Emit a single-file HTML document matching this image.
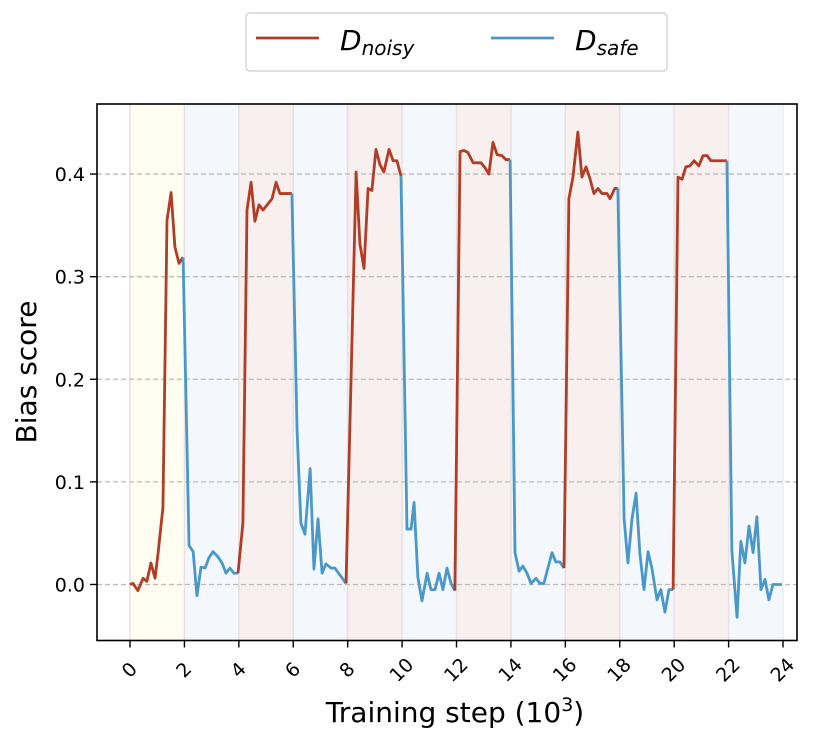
<!DOCTYPE html>
<html><head><meta charset="utf-8"><style>
body{margin:0;background:#fff;}
svg text{font-family:"DejaVu Sans","Liberation Sans",sans-serif;}
</style></head><body>
<svg id="chart" width="830" height="746" viewBox="0 0 830 746" xmlns="http://www.w3.org/2000/svg">
<g id="bands"></g>
<g id="grid"></g>
<g id="lines"></g>
<rect x="97" y="104" width="700" height="536.5" fill="none" stroke="#000" stroke-width="1.6"/>
<g id="axes"></g>
<text transform="translate(36,372) rotate(-90)" text-anchor="middle" font-size="28">Bias score</text>
<text x="455" y="722" text-anchor="middle" font-size="28">Training step (10<tspan font-size="19" dy="-11">3</tspan><tspan dy="11">)</tspan></text>
<g>
<rect x="246" y="13" width="421" height="58" rx="4" fill="#fff" stroke="#ccc" stroke-width="1.2"/>
<line x1="256" y1="38" x2="319" y2="38" stroke="#b13d26" stroke-width="2.8"/>
<text x="340" y="50" font-size="28" font-style="italic">D<tspan font-size="20" dy="5">noisy</tspan></text>
<line x1="491" y1="38" x2="554" y2="38" stroke="#4a98c9" stroke-width="2.8"/>
<text x="575" y="50" font-size="28" font-style="italic">D<tspan font-size="20" dy="5">safe</tspan></text>
</g>
</svg>
<script>
const steps=[0,0.11,0.29,0.48,0.62,0.77,0.92,1.03,1.21,1.36,1.51,1.65,1.80,1.95,
2.17,2.32,2.46,2.61,2.76,2.90,3.05,3.23,3.38,3.53,3.67,3.82,3.97,
4.15,4.30,4.45,4.59,4.74,4.89,5.07,5.22,5.37,5.51,5.66,5.95,
6.14,6.28,6.43,6.62,6.76,6.91,7.06,7.20,7.39,7.53,7.94,
8.31,8.45,8.60,8.75,8.89,9.04,9.19,9.33,9.52,9.67,9.81,9.96,
10.18,10.33,10.44,10.58,10.73,10.92,11.06,11.21,11.36,11.50,11.65,11.80,11.94,
12.13,12.27,12.42,12.61,12.75,12.90,13.05,13.19,13.34,13.49,13.67,13.82,13.97,
14.15,14.30,14.44,14.59,14.74,14.92,15.07,15.21,15.36,15.51,15.65,15.80,15.95,
16.13,16.28,16.46,16.61,16.76,16.90,17.05,17.20,17.35,17.53,17.64,17.82,17.93,
18.16,18.30,18.45,18.60,18.74,18.89,19.04,19.18,19.37,19.51,19.66,19.81,19.96,
20.14,20.29,20.43,20.58,20.73,20.91,21.06,21.21,21.35,21.94,
22.12,22.31,22.45,22.60,22.75,22.90,23.04,23.19,23.34,23.48,23.63,23.96];
const values=[0,0.001,-0.006,0.006,0.003,0.021,0.006,0.030,0.075,0.355,0.382,0.329,0.313,0.319,
0.038,0.032,-0.011,0.017,0.016,0.026,0.032,0.027,0.021,0.011,0.016,0.011,0.011,
0.060,0.365,0.392,0.354,0.370,0.365,0.371,0.376,0.392,0.381,0.381,0.381,
0.150,0.060,0.049,0.113,0.015,0.064,0.011,0.020,0.016,0.016,0.001,
0.402,0.332,0.308,0.386,0.384,0.424,0.409,0.402,0.424,0.413,0.413,0.398,
0.054,0.054,0.080,0.007,-0.016,0.011,-0.005,-0.005,0.011,-0.005,0.016,0.001,-0.006,
0.422,0.423,0.421,0.411,0.411,0.411,0.406,0.400,0.431,0.419,0.418,0.414,0.414,
0.031,0.013,0.018,0.011,0.001,0.006,0.001,0.001,0.016,0.031,0.022,0.022,0.016,
0.376,0.397,0.441,0.397,0.407,0.396,0.381,0.386,0.381,0.381,0.376,0.386,0.386,
0.064,0.021,0.064,0.089,0.030,-0.005,0.032,0.016,-0.015,-0.005,-0.027,-0.005,-0.005,
0.397,0.395,0.407,0.408,0.413,0.408,0.418,0.418,0.413,0.413,
0.033,-0.032,0.042,0.021,0.057,0.031,0.066,-0.005,0.005,-0.015,0.0,0.0];
const phaseStarts=[0,2,4,6,8,10,12,14,16,18,20,22];
const phaseKinds=['noisy','safe','noisy','safe','noisy','safe','noisy','safe','noisy','safe','noisy','safe'];
const xTicks=[0,2,4,6,8,10,12,14,16,18,20,22,24];
const yTicks=[0.0,0.1,0.2,0.3,0.4];
const yTickLabels=['0.0','0.1','0.2','0.3','0.4'];

const NS='http://www.w3.org/2000/svg';
const L=97,R=797,T=104,B=640.5;
const xMin=-1.213,xMax=24.514,yMin=-0.0546,yMax=0.4683;
const xs=v=>L+(v-xMin)/(xMax-xMin)*(R-L);
const ys=v=>B-(v-yMin)/(yMax-yMin)*(B-T);
function mk(tag,attrs,parent){const e=document.createElementNS(NS,tag);for(const k in attrs)e.setAttribute(k,attrs[k]);parent.appendChild(e);return e;}
const bands=document.getElementById('bands'),grid=document.getElementById('grid'),lines=document.getElementById('lines'),axes=document.getElementById('axes');
phaseStarts.forEach((s,i)=>{
  const fill=i===0?'#fffef0':(phaseKinds[i]==='noisy'?'#f8f0ee':'#f4f8fc');
  const r=mk('rect',{x:xs(s),y:T,width:xs(s+2)-xs(s),height:B-T,fill:fill},bands);
  
  
  const ln=mk('line',{x1:xs(s),x2:xs(s),y1:T,y2:B,stroke:'#e6e0e0','stroke-width':1.5},bands);
  
  
});
const last=mk('line',{x1:xs(24),x2:xs(24),y1:T,y2:B,stroke:'#e8eef2','stroke-width':1.5},bands);


yTicks.forEach((v,i)=>{
  const g=mk('line',{x1:L,x2:R,y1:ys(v),y2:ys(v),stroke:'#bbb','stroke-width':1.3,'stroke-dasharray':'5,3'},grid);
  
  
  const t=mk('line',{x1:L-7,x2:L,y1:ys(v),y2:ys(v),stroke:'#000','stroke-width':1.4},axes);
  
  
  const tx=mk('text',{x:L-12,y:ys(v)+7,'text-anchor':'end','font-size':19},axes);
  tx.textContent=yTickLabels[i];
  
  
});
xTicks.forEach(v=>{
  const t=mk('line',{x1:xs(v),x2:xs(v),y1:B,y2:B+7,stroke:'#000','stroke-width':1.4},axes);
  
  
  const tx=mk('text',{transform:'translate('+(xs(v)+4)+','+(B+34)+') rotate(-45)','text-anchor':'middle','font-size':19},axes);
  tx.textContent=String(v);
  
  
});
function phaseOf(x){let k=0;for(let i=0;i<phaseStarts.length;i++){if(x>phaseStarts[i]+1e-9)k=i;}return phaseKinds[k];}
let cur=null,pts=[];
function flush(){if(!cur)return;const p=mk('polyline',{points:pts.join(' '),fill:'none',stroke:cur==='noisy'?'#b13d26':'#4a98c9','stroke-width':2.8,'stroke-linejoin':'round'},lines);

}
for(let i=1;i<steps.length;i++){
  const ph=phaseOf(steps[i]);
  if(ph!==cur){flush();cur=ph;pts=[xs(steps[i-1])+','+ys(values[i-1])];}
  pts.push(xs(steps[i])+','+ys(values[i]));
}
flush();
</script>
</body></html>
